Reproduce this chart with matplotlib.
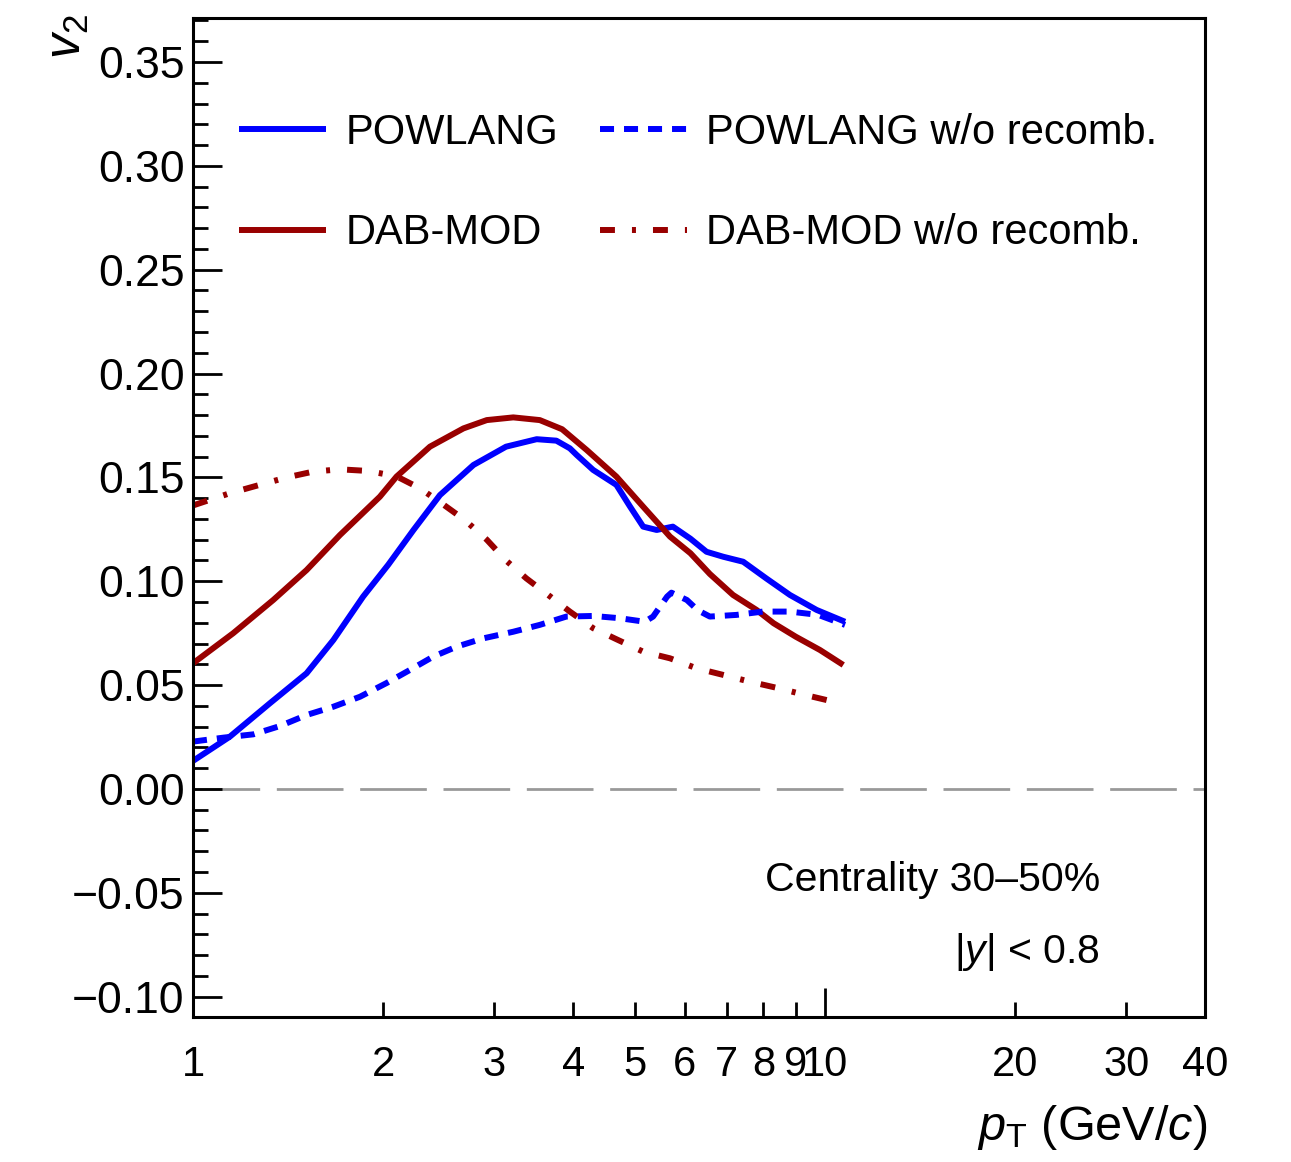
import matplotlib
matplotlib.use("Agg")
import matplotlib.pyplot as plt
from matplotlib.ticker import FixedLocator, FuncFormatter, MultipleLocator

plt.rcParams['font.family'] = ['Liberation Sans', 'DejaVu Sans']
plt.rcParams['mathtext.fontset'] = 'custom'
plt.rcParams['mathtext.rm'] = 'Liberation Sans'
plt.rcParams['mathtext.it'] = 'Liberation Sans:italic'
plt.rcParams['mathtext.bf'] = 'Liberation Sans:bold'

# ---- data ----
powlang_x = [1.0, 1.144, 1.324, 1.513, 1.668, 1.859, 2.038, 2.234, 2.46, 2.78, 3.13, 3.5,
             3.76, 3.95, 4.05, 4.3, 4.68, 4.92, 5.16, 5.42, 5.75, 6.13, 6.5, 6.91, 7.43,
             8.08, 8.81, 9.71, 10.77]
powlang_y = [0.0135, 0.0252, 0.0413, 0.0557, 0.0717, 0.0926, 0.108, 0.1247, 0.1415, 0.156,
             0.1648, 0.1684, 0.1677, 0.164, 0.1608, 0.1536, 0.1464, 0.1359, 0.1263, 0.1247,
             0.1263, 0.1205, 0.1142, 0.1118, 0.1094, 0.1014, 0.0934, 0.0862, 0.0805]

dab_x = [1.0, 1.158, 1.34, 1.513, 1.709, 1.976, 2.1, 2.372, 2.68, 2.918, 3.214, 3.54, 3.84,
         4.2, 4.68, 5.16, 5.69, 6.13, 6.58, 7.16, 7.8, 8.3, 9.0, 9.83, 10.7]
dab_y = [0.0605, 0.075, 0.091, 0.1054, 0.1223, 0.1407, 0.1504, 0.1648, 0.1736, 0.1776,
         0.1789, 0.1776, 0.1732, 0.1632, 0.1504, 0.1359, 0.1215, 0.1135, 0.1035, 0.0934,
         0.0862, 0.0798, 0.0733, 0.0669, 0.0597]

powlang_norec_x = [1.0, 1.117, 1.246, 1.373, 1.513, 1.668, 1.838, 2.025, 2.205, 2.4, 2.614,
                   2.88, 3.214, 3.54, 3.9, 4.3, 4.74, 5.19, 5.35, 5.63, 5.72, 6.05, 6.3,
                   6.58, 7.25, 7.98, 8.81, 9.77, 10.77]
powlang_norec_y = [0.0228, 0.0247, 0.0263, 0.0303, 0.0356, 0.0396, 0.0444, 0.051, 0.0573,
                   0.0637, 0.0685, 0.0725, 0.0757, 0.079, 0.083, 0.0833, 0.0822, 0.0805,
                   0.083, 0.0926, 0.0945, 0.091, 0.086, 0.083, 0.0838, 0.0854, 0.0854,
                   0.0838, 0.079]

dab_norec_x = [1.0, 1.144, 1.261, 1.407, 1.55, 1.709, 1.894, 2.1, 2.286, 2.489, 2.693, 2.918,
               3.13, 3.37, 3.65, 3.95, 4.3, 4.71, 5.16, 5.69, 6.27, 6.91, 7.6, 8.45, 9.3, 10.5]
dab_norec_y = [0.1365, 0.1424, 0.146, 0.15, 0.1528, 0.1539, 0.1531, 0.1505, 0.1448, 0.137,
               0.1295, 0.12, 0.11, 0.1014, 0.0934, 0.0854, 0.0774, 0.0717, 0.0661, 0.0629,
               0.0581, 0.0549, 0.0517, 0.0485, 0.0453, 0.0415]

labels = ["POWLANG", "DAB-MOD", "POWLANG w/o recomb.", "DAB-MOD w/o recomb."]
xtick_major = [1, 10]
xtick_minor = [2, 3, 4, 5, 6, 7, 8, 9, 20, 30, 40]

BLUE = '#0000ff'
RED = '#990000'

fig = plt.figure(figsize=(12.91, 11.62), dpi=100)
ax = fig.add_axes([193/1291, 1-1017/1162, (1205-193)/1291, (1017-18)/1162])

lw = 4.3
l1, = ax.plot(powlang_x, powlang_y, color=BLUE, lw=lw, solid_capstyle='butt',
              solid_joinstyle='round')
l2, = ax.plot(dab_x, dab_y, color=RED, lw=lw, solid_capstyle='butt', solid_joinstyle='round')
l3, = ax.plot(powlang_norec_x, powlang_norec_y, color=BLUE, lw=lw,
              linestyle=(0, (2.35, 1.67)))
l4, = ax.plot(dab_norec_x, dab_norec_y, color=RED, lw=lw,
              linestyle=(0, (2.5, 2.85, 0.67, 2.85)))

ax.axhline(0, color='#999999', lw=2.0, linestyle=(0, (24, 6)), zorder=0)

ax.set_xscale('log')
ax.set_xlim(1, 40)
ax.set_ylim(-0.1098, 0.3712)

ax.xaxis.set_major_locator(FixedLocator(xtick_major))
ax.xaxis.set_minor_locator(FixedLocator(xtick_minor))
fmt = FuncFormatter(lambda v, p: f"{v:g}")
ax.xaxis.set_major_formatter(fmt)
ax.xaxis.set_minor_formatter(fmt)

ax.yaxis.set_major_locator(MultipleLocator(0.05))
ax.yaxis.set_minor_locator(MultipleLocator(0.01))
def yfmt(v, p):
    s = f"{v:.2f}"
    if s == "-0.00":
        s = "0.00"
    return s.replace('-', '\u2212')
ax.yaxis.set_major_formatter(FuncFormatter(yfmt))

ax.tick_params(axis='both', which='both', direction='in', top=False, right=False,
               width=2.0)
ax.tick_params(axis='y', which='both', labelsize=32, pad=6)
ax.tick_params(axis='x', which='both', labelsize=30, pad=20)
ax.tick_params(axis='both', which='major', length=21)
ax.tick_params(axis='both', which='minor', length=10.5)

for sp in ax.spines.values():
    sp.set_linewidth(2.2)

leg = ax.legend([l1, l2, l3, l4], labels, ncol=2, loc='upper left',
                bbox_to_anchor=(0.045, 0.905), frameon=False, fontsize=30,
                handlelength=2.1, handletextpad=0.46, columnspacing=1.0,
                labelspacing=1.45, borderaxespad=0, borderpad=0)

ax.text(1100/1291, 1-880/1162, "Centrality 30\u201350%", transform=fig.transFigure,
        ha='right', va='center', fontsize=29.5)
ax.text(1100/1291, 1-952/1162, "|$y$| < 0.8", transform=fig.transFigure,
        ha='right', va='center', fontsize=29.5)

fig.text(1207/1291, 1-1127/1162, r"$p_{\mathrm{T}}$ (GeV/$c$)", ha='right', va='center',
         fontsize=35)
fig.text(68/1291, 1-14/1162, r"$v_{2}$", rotation=90, ha='center', va='top', fontsize=36)

fig.savefig("out.png", dpi=100)
